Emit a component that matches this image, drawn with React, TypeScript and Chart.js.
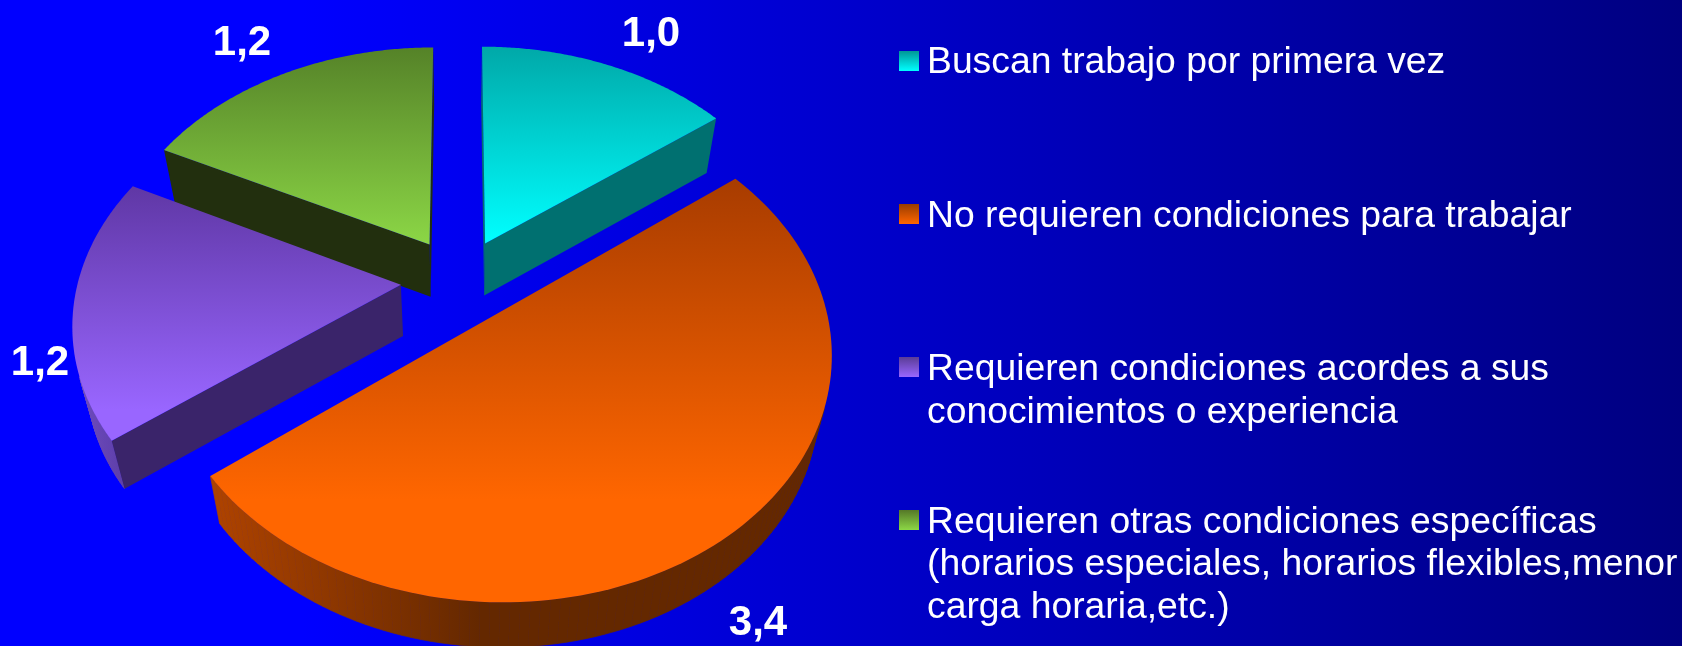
import React, { useEffect, useRef } from "react";
import { Chart, registerables } from "chart.js";

Chart.register(...registerables);

const categories: string[][] = [
  ["Buscan trabajo por primera vez"],
  ["No requieren condiciones para trabajar"],
  ["Requieren condiciones acordes a sus", "conocimientos o experiencia"],
  ["Requieren otras condiciones específicas", "(horarios especiales, horarios flexibles,menor", "carga horaria,etc.)"],
];
const values: number[] = [1.0, 3.4, 1.2, 1.2];

const baseColors = ["#00ffff", "#ff6600", "#9966ff", "#8cd746"];
const topGradients = [
  { y0: 46, c0: "rgb(0,168,168)", y1: 243, c1: "rgb(0,255,255)" },
  { y0: 180, c0: "rgb(168,60,0)", y1: 500, c1: "rgb(255,102,0)" },
  { y0: 186, c0: "rgb(95,55,165)", y1: 410, c1: "rgb(153,102,255)" },
  { y0: 47, c0: "rgb(85,130,40)", y1: 246, c1: "rgb(140,215,70)" },
];
const cutColors = ["rgb(0,112,112)", "rgb(100,40,0)", "rgb(58,36,106)", "rgb(34,47,14)"];
const wallStops: [string, string][] = [
  ["rgb(0,112,112)", "rgb(0,112,112)"],
  ["rgb(172,66,0)", "rgb(100,40,0)"],
  ["rgb(112,76,196)", "rgb(92,62,160)"],
  ["rgb(34,47,14)", "rgb(34,47,14)"],
];
const swatches: [string, string][] = [
  ["rgb(0,150,150)", "rgb(0,255,255)"],
  ["rgb(153,60,0)", "rgb(255,102,0)"],
  ["rgb(90,60,150)", "rgb(153,102,255)"],
  ["rgb(85,120,40)", "rgb(140,215,70)"],
];
// Layout constants for the tilted pie
const view = { cx: 460, cy: 278, R: 325, Rs: 236, p: 0.15, explode: 0.17 };
const sliceNudge = [
  { dx: 1, dy: 0.5, k: 1 },
  { dx: 3, dy: 3, k: 0.995 },
  { dx: -4, dy: 3, k: 0.993 },
  { dx: -2, dy: 0, k: 1 },
];
const labelSpots = [
  { x: 651, y: 46 },
  { x: 758, y: 635 },
  { x: 40, y: 375 },
  { x: 242, y: 55 },
];
const legendSpots = [
  { box: 51, lines: [73] },
  { box: 204, lines: [227] },
  { box: 357, lines: [380, 423] },
  { box: 510, lines: [533, 575, 618] },
];

type P = [number, number];
const project = (X: number, Y: number): P => {
  const w = 1 - view.p * Y;
  return [view.cx + (view.R * X) / w, view.cy + (view.Rs * Y) / w];
};
const lower = ([x, y]: P): P => [view.cx + 0.963 * (x - view.cx), y + 57 - 0.02 * y];

const area = (pts: P[]) => {
  let s = 0;
  pts.forEach((a, i) => {
    const b = pts[(i + 1) % pts.length];
    s += a[0] * b[1] - b[0] * a[1];
  });
  return s / 2;
};
const trace = (ctx: CanvasRenderingContext2D, pts: P[]) => {
  ctx.beginPath();
  pts.forEach((p, i) => (i ? ctx.lineTo(p[0], p[1]) : ctx.moveTo(p[0], p[1])));
  ctx.closePath();
};

const pie3d = {
  id: "pie3d",
  beforeDatasetsDraw(chart: any) {
    const ctx: CanvasRenderingContext2D = chart.ctx;
    const arcs = chart.getDatasetMeta(0).data;
    [0, 3, 2, 1].forEach((i) => {
      const arc = arcs[i];
      const t0 = arc.startAngle + Math.PI / 2;
      const t1 = arc.endAngle + Math.PI / 2;
      const mid = (t0 + t1) / 2;
      const ox = view.explode * Math.sin(mid);
      const oy = -view.explode * Math.cos(mid);
      const nudge = sliceNudge[i];
      const place = (X: number, Y: number): P => {
        const [x, y] = project(X, Y);
        return [x + nudge.dx, y + nudge.dy];
      };
      const rim: P[] = [];
      const n = 120;
      for (let k = 0; k <= n; k++) {
        const t = t0 + ((t1 - t0) * k) / n;
        rim.push(place(ox + nudge.k * Math.sin(t), oy - nudge.k * Math.cos(t)));
      }
      const apex = place(ox, oy);
      const top: P[] = [apex, ...rim];
      const sign = Math.sign(area(top));

      ctx.save();
      // side faces
      const wall = ctx.createLinearGradient(i === 1 ? 221 : 73, 0, i === 1 ? 480 : 135, 0);
      wall.addColorStop(0, wallStops[i][0]);
      wall.addColorStop(1, wallStops[i][1]);
      ctx.lineWidth = 0.7;
      ctx.fillStyle = wall;
      ctx.strokeStyle = wall;
      for (let k = 0; k < n; k++) {
        const q: P[] = [rim[k], rim[k + 1], lower(rim[k + 1]), lower(rim[k])];
        if (Math.sign(area(q)) !== sign) {
          trace(ctx, q);
          ctx.fill();
          ctx.stroke();
        }
      }
      ctx.fillStyle = cutColors[i];
      for (const q of [
        [apex, rim[0], lower(rim[0]), lower(apex)],
        [rim[n], apex, lower(apex), lower(rim[n])],
      ] as P[][]) {
        if (Math.sign(area(q)) !== sign) {
          trace(ctx, q);
          ctx.fill();
        }
      }
      // top face
      const g = topGradients[i];
      const grad = ctx.createLinearGradient(0, g.y0, 0, g.y1);
      grad.addColorStop(0, g.c0);
      grad.addColorStop(1, g.c1);
      ctx.fillStyle = grad;
      trace(ctx, top);
      ctx.fill();
      ctx.restore();
    });
    return false;
  },
  afterDraw(chart: any) {
    const ctx: CanvasRenderingContext2D = chart.ctx;
    ctx.save();
    ctx.fillStyle = "#ffffff";
    ctx.textBaseline = "alphabetic";
    // value labels
    ctx.font = "bold 42px 'Liberation Sans', Arial, sans-serif";
    ctx.textAlign = "center";
    chart.data.datasets[0].data.forEach((v: number, i: number) => {
      ctx.fillText(v.toFixed(1).replace(".", ","), labelSpots[i].x, labelSpots[i].y);
    });
    // legend
    ctx.textAlign = "left";
    ctx.font = "37.3px 'Liberation Sans', Arial, sans-serif";
    chart.data.labels.forEach((lines: string[], i: number) => {
      const spot = legendSpots[i];
      const g = ctx.createLinearGradient(0, spot.box, 0, spot.box + 20);
      g.addColorStop(0, swatches[i][0]);
      g.addColorStop(1, swatches[i][1]);
      ctx.fillStyle = g;
      ctx.fillRect(899, spot.box, 20, 20);
      ctx.fillStyle = "#ffffff";
      lines.forEach((line, j) => ctx.fillText(line, 927, spot.lines[j]));
    });
    ctx.restore();
  },
};

export default function App() {
  const ref = useRef<HTMLCanvasElement>(null);
  useEffect(() => {
    document.body.style.margin = "0";
    const chart = new Chart(ref.current as HTMLCanvasElement, {
      type: "pie",
      data: {
        labels: categories as any,
        datasets: [{ data: values, backgroundColor: baseColors, borderWidth: 0 }],
      },
      options: {
        responsive: false,
        animation: false,
        plugins: { legend: { display: false }, tooltip: { enabled: false } },
      },
      plugins: [pie3d as any],
    });
    return () => chart.destroy();
  }, []);
  return (
    <div
      style={{
        position: "fixed",
        inset: 0,
        overflow: "hidden",
        background: "linear-gradient(90deg, #0000ff 18%, #000080 100%)",
      }}
    >
      <canvas ref={ref} width={1682} height={646} style={{ display: "block" }} />
    </div>
  );
}
